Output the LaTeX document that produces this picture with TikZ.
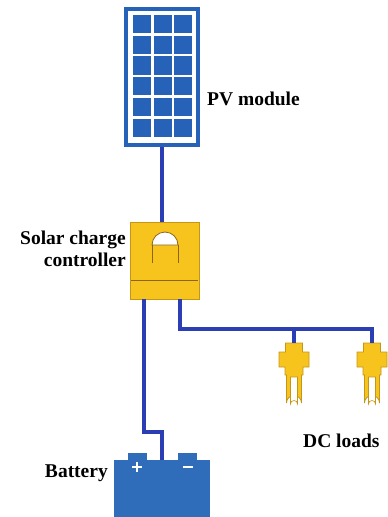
\documentclass[tikz,border=0pt]{standalone}
\usepackage{fontspec}
\setmainfont{Liberation Serif}
\usepackage{tikz}

\definecolor{wireblue}{RGB}{44,62,180}
\definecolor{panelblue}{RGB}{38,98,184}
\definecolor{battblue}{RGB}{47,108,186}
\definecolor{ctrlyellow}{RGB}{247,196,30}
\definecolor{ctrledge}{RGB}{196,150,24}
\definecolor{ctrlline}{RGB}{140,100,20}

\tikzset{
  wire/.style={draw=wireblue, line width=3.2pt},
  label/.style={font=\fontsize{19.5}{22.5}\selectfont\bfseries, inner sep=0pt},
  yellowpart/.style={fill=ctrlyellow, draw=ctrledge, line width=0.8pt}
}

\begin{document}
\begin{tikzpicture}[x=1pt, y=-1pt]

\useasboundingbox (0,0) rectangle (388,517);

% Draw the PV module: frame and 3x6 cells
\node[draw=panelblue, line width=3.5pt, minimum width=72pt, minimum height=136pt, inner sep=0pt] (panel) at (162,77) {};
\foreach \c in {0,1,2}
  \foreach \r in {0,...,5}
    \fill[panelblue] (133+\c*20.5,15+\r*20.7) rectangle ++(18,18.2);
\node[label, anchor=base west] (pvlabel) at (207,105) {PV module};

% Draw the charge controller
\node[yellowpart, minimum width=69pt, minimum height=77pt, inner sep=0pt] (ctrl) at (164.5,260.5) {};
\draw[ctrlline, line width=0.8pt] (131,280) -- (198,280);
\fill[white, draw=ctrlline, line width=0.8pt] (152,245) arc[start angle=180, end angle=360, radius=13] -- cycle;
\draw[ctrlline, line width=0.8pt] (152,245) -- (152,263) (178,245) -- (178,263);
\node[label, anchor=east, align=right] (ctrllabel) at (126,249) {Solar charge\\controller};

% Draw the battery with its two terminals
\node[fill=battblue, minimum width=96pt, minimum height=57pt, inner sep=0pt] (batt) at (162,488.5) {};
\fill[battblue] (128,453) rectangle (147,461);
\fill[battblue] (178,453) rectangle (197,461);
\draw[white, line width=2.2pt] (132,467) -- (142,467) (137,462) -- (137,472);
\draw[white, line width=2.2pt] (183,467) -- (193,467);
\node[label, anchor=base east] (battlabel) at (108,477) {Battery};

% Draw the two DC lamps
\foreach \cx/\name in {294/lampA, 372/lampB} {
  \draw[yellowpart] (\cx-8.5,343) -- (\cx+8.5,343) -- (\cx+8.5,352) -- (\cx+15,352)
    -- (\cx+15,367) -- (\cx+9,367) -- (\cx+9,375) -- (\cx+7.5,375) -- (\cx+7.5,403)
    arc[start angle=0, end angle=-180, radius=7.5] -- (\cx-7.5,375) -- (\cx-9,375)
    -- (\cx-9,367) -- (\cx-15,367) -- (\cx-15,352) -- (\cx-8.5,352) -- cycle;
  \fill[white, draw=ctrledge, line width=0.6pt] (\cx-3.5,377) -- (\cx-3.5,404)
    arc[start angle=180, end angle=360, radius=3.5] -- (\cx+3.5,377) -- cycle;
  \coordinate (\name) at (\cx,343);
}
\node[label, anchor=base west] (loadlabel) at (303,447) {DC loads};

% Wiring between the parts
\coordinate (ctrlL) at (144,299);
\coordinate (ctrlR) at (180,299);
\coordinate (bus) at (180,329);
\draw[wire] (panel.south) -- (panel.south |- ctrl.north);
\draw[wire] (ctrlL) -- ++(0,133) -| (batt.north);
\draw[wire] (ctrlR) -- (bus) -| (lampB);
\draw[wire] (lampA) -- (lampA |- bus);

\end{tikzpicture}
\end{document}
